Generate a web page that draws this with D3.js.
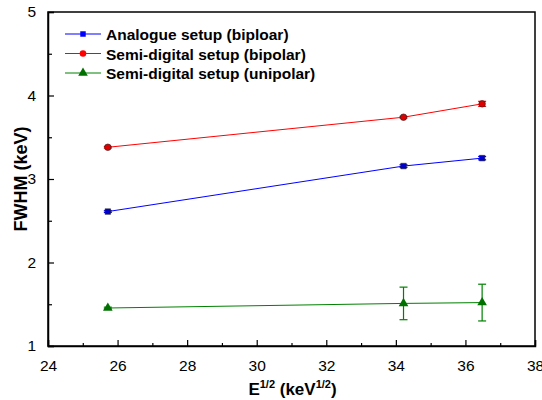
<!DOCTYPE html>
<html>
<head>
<meta charset="utf-8">
<script src="https://cdn.jsdelivr.net/npm/d3@7"></script>
<style>
  body { margin: 0; background: #fff; }
  text { font-family: Arial, "Liberation Sans", sans-serif; }
</style>
</head>
<body>
<div id="container"></div>
<script>
const width = 542;
const height = 400;
const margin = {top: 12, right: 7, bottom: 54, left: 48};

const energies = [25.72, 34.22, 36.48];
const analogue = [2.61, 3.155, 3.25];
const analogueErr = [0.01, 0.015, 0.02];
const semiBipolar = [3.38, 3.74, 3.90];
const semiBipolarErr = [0.01, 0.01, 0.03];
const semiUnipolar = [1.455, 1.51, 1.52];
const semiUnipolarErr = [0.01, 0.195, 0.22];
const seriesNames = ["Analogue setup (biploar)", "Semi-digital setup (bipolar)", "Semi-digital setup (unipolar)"];
const xTicks = [24, 26, 28, 30, 32, 34, 36, 38];
const yTicks = [1, 2, 3, 4, 5];

const series = [
  {name: seriesNames[0], values: analogue, err: analogueErr, color: "#0000ff", fill: "#0000cc", symbol: d3.symbolSquare, size: 30},
  {name: seriesNames[1], values: semiBipolar, err: semiBipolarErr, color: "#ff0000", fill: "#e00000", symbol: d3.symbolCircle, size: 34},
  {name: seriesNames[2], values: semiUnipolar, err: semiUnipolarErr, color: "#008000", fill: "#007000", symbol: d3.symbolTriangle, size: 40}
];

const svg = d3.select("#container")
              .append("svg")
              .attr("width", width)
              .attr("height", height);

const x = d3.scaleLinear().domain([24, 38]).range([margin.left, width - margin.right]);
const y = d3.scaleLinear().domain([1, 5]).range([height - margin.bottom, margin.top]);

// frame
svg.append("rect")
   .attr("x", x(24)).attr("y", y(5))
   .attr("width", x(38) - x(24)).attr("height", y(1) - y(5))
   .attr("fill", "none").attr("stroke", "#000").attr("stroke-width", 1.5);

// x axis, ticks pointing in
svg.append("g")
   .attr("transform", "translate(0," + y(1) + ")")
   .call(d3.axisBottom(x).tickValues(xTicks).tickSize(-6).tickPadding(14).tickFormat(d3.format("d")));
svg.append("g")
   .attr("transform", "translate(0," + y(1) + ")")
   .call(d3.axisBottom(x).tickValues(d3.range(25, 38, 2)).tickSize(-3).tickFormat(""))
   .select(".domain").remove();

svg.append("g")
   .attr("transform", "translate(" + x(24) + ",0)")
   .call(d3.axisLeft(y).tickValues(yTicks).tickSize(-6).tickPadding(12).tickFormat(d3.format("d")));
svg.append("g")
   .attr("transform", "translate(" + x(24) + ",0)")
   .call(d3.axisLeft(y).tickValues([1.5, 2.5, 3.5, 4.5]).tickSize(-4).tickFormat(""))
   .select(".domain").remove();

svg.selectAll(".domain").attr("stroke", "#000").attr("stroke-width", 1.5);
svg.selectAll(".tick line").attr("stroke", "#000").attr("stroke-width", 1.2);
svg.selectAll(".tick text").attr("font-size", 15.5).attr("fill", "#000")
   .attr("font-family", "Arial, 'Liberation Sans', sans-serif");

// axis titles
const xLabel = svg.append("text")
   .attr("x", (x(24) + x(38)) / 2 + 1)
   .attr("y", 395)
   .attr("text-anchor", "middle")
   .attr("font-size", 17)
   .attr("font-weight", "bold");
xLabel.append("tspan").text("E");
xLabel.append("tspan").attr("font-size", 11).attr("dy", -7).text("1/2");
xLabel.append("tspan").attr("dy", 7).text(" (keV");
xLabel.append("tspan").attr("font-size", 11).attr("dy", -7).text("1/2");
xLabel.append("tspan").attr("dy", 7).text(")");

svg.append("text")
   .attr("transform", "translate(27," + ((y(1) + y(5)) / 2) + ") rotate(-90)")
   .attr("text-anchor", "middle")
   .attr("font-size", 18)
   .attr("font-weight", "bold")
   .text("FWHM (keV)");

const line = d3.line().x((d, i) => x(energies[i])).y(d => y(d));

series.forEach(s => {
  svg.append("path")
     .datum(s.values)
     .attr("d", line)
     .attr("fill", "none")
     .attr("stroke", s.color)
     .attr("stroke-width", 1);

  const eb = svg.append("g");
  s.values.forEach((v, i) => {
    const cx = x(energies[i]);
    eb.append("line")
      .attr("x1", cx).attr("x2", cx)
      .attr("y1", y(v - s.err[i])).attr("y2", y(v + s.err[i]))
      .attr("stroke", s.color).attr("stroke-width", 1.2);
    [v - s.err[i], v + s.err[i]].forEach(e => {
      eb.append("line")
        .attr("x1", cx - 4).attr("x2", cx + 4)
        .attr("y1", y(e)).attr("y2", y(e))
        .attr("stroke", s.color).attr("stroke-width", 1.2);
    });
  });

  svg.append("g")
     .selectAll("path")
     .data(s.values)
     .enter()
     .append("path")
     .attr("transform", (d, i) => "translate(" + x(energies[i]) + "," + y(d) + ")")
     .attr("d", d3.symbol().type(s.symbol).size(s.size))
     .attr("fill", s.fill)
     .attr("stroke", s.symbol === d3.symbolTriangle ? "none" : "#222")
     .attr("stroke-width", 0.6);
});

// legend
const legend = svg.append("g").attr("transform", "translate(65,34)");
series.forEach((s, i) => {
  const row = legend.append("g").attr("transform", "translate(0," + i * 19.5 + ")");
  row.append("line")
     .attr("x1", 0).attr("x2", 36).attr("y1", 0).attr("y2", 0)
     .attr("stroke", s.color).attr("stroke-width", 1);
  row.append("path")
     .attr("transform", "translate(18,0)")
     .attr("d", d3.symbol().type(s.symbol).size(s.size))
     .attr("fill", s.color === "#008000" ? "#007000" : s.color);
  row.append("text")
     .attr("x", 41).attr("y", 6)
     .attr("font-size", 15.5)
     .attr("font-weight", "bold")
     .text(s.name);
});
</script>
</body>
</html>
